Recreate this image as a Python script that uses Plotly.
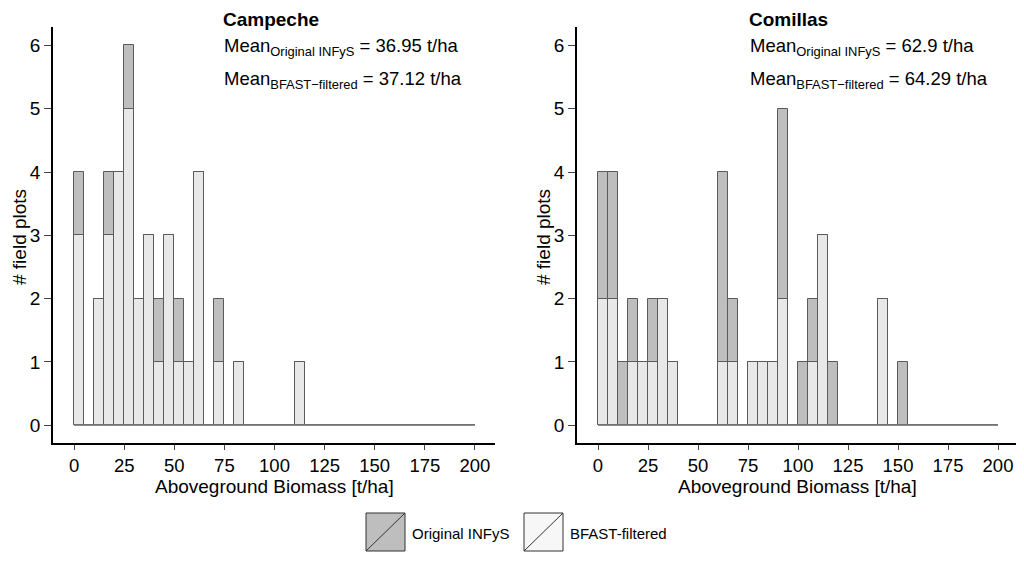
import plotly.graph_objects as go

# histogram bins: 5 t/ha wide, 0-200
bin_start = 0
bin_width = 5
n_bins = 40

# counts per bin (index 0 -> 0-5 t/ha, ...)
campeche_original = [4, 0, 2, 4, 4, 6, 2, 3, 2, 3, 2, 1, 4, 0, 2, 0, 1, 0, 0, 0,
                     0, 0, 1, 0, 0, 0, 0, 0, 0, 0, 0, 0, 0, 0, 0, 0, 0, 0, 0, 0]
campeche_filtered = [3, 0, 2, 3, 4, 5, 2, 3, 1, 3, 1, 1, 4, 0, 1, 0, 1, 0, 0, 0,
                     0, 0, 1, 0, 0, 0, 0, 0, 0, 0, 0, 0, 0, 0, 0, 0, 0, 0, 0, 0]
comillas_original = [4, 4, 1, 2, 1, 2, 2, 1, 0, 0, 0, 0, 4, 2, 0, 1, 1, 1, 5, 0,
                     1, 2, 3, 1, 0, 0, 0, 0, 2, 0, 1, 0, 0, 0, 0, 0, 0, 0, 0, 0]
comillas_filtered = [2, 2, 0, 1, 1, 1, 2, 1, 0, 0, 0, 0, 1, 1, 0, 1, 1, 1, 2, 0,
                     0, 1, 3, 0, 0, 0, 0, 0, 2, 0, 0, 0, 0, 0, 0, 0, 0, 0, 0, 0]

panels = ["Campeche", "Comillas"]
mean_original = ["36.95", "62.9"]
mean_filtered = ["37.12", "64.29"]

x_ticks = [0, 25, 50, 75, 100, 125, 150, 175, 200]
y_ticks = [0, 1, 2, 3, 4, 5, 6]
x_title = "Aboveground Biomass [t/ha]"
y_title = "# field plots"

DARK = "#bebebe"
LIGHT = "#e8e8e8"
EDGE = "#5a5a5a"
FONT = "Liberation Sans, Arial, sans-serif"
W, H = 1024, 562
OFF = 8  # page body margin the figure sits inside

centers = [bin_start + bin_width * (i + 0.5) for i in range(n_bins)]
edges = [bin_start, bin_start + bin_width * n_bins]


def px(x):
    return (x - OFF) / W


def py(y):
    return 1 - (y - OFF) / H


fig = go.Figure()
series = [(campeche_original, campeche_filtered), (comillas_original, comillas_filtered)]
for k, (orig, filt) in enumerate(series):
    xa = "x" if k == 0 else "x2"
    ya = "y" if k == 0 else "y2"
    fig.add_trace(go.Scatter(x=edges, y=[0, 0], mode="lines", xaxis=xa, yaxis=ya,
                             line=dict(color="#8a8a8a", width=1.5), showlegend=False,
                             hoverinfo="skip"))
    fig.add_trace(go.Bar(x=centers, y=orig, width=bin_width, xaxis=xa, yaxis=ya,
                         marker=dict(color=DARK, line=dict(color=EDGE, width=1)),
                         name="Original INFyS", showlegend=False))
    fig.add_trace(go.Bar(x=centers, y=filt, width=bin_width, xaxis=xa, yaxis=ya,
                         marker=dict(color=LIGHT, line=dict(color=EDGE, width=1)),
                         name="BFAST-filtered", showlegend=False))

axis_common = dict(showline=True, linecolor="black", linewidth=1.5, showgrid=False,
                   zeroline=False, ticks="outside", tickcolor="#444",
                   automargin=False,
                   tickfont=dict(size=19, color="black", family=FONT))

x_domains = [[px(53), px(495)], [px(577), px(1018)]]
y_domain = [py(443), py(27)]

layout = dict(
    width=W, height=H, barmode="overlay", bargap=0,
    paper_bgcolor="white", plot_bgcolor="white",
    margin=dict(l=0, r=0, t=0, b=0),
    showlegend=False,
    font=dict(family=FONT, color="black"),
)
for k in range(2):
    sx = "" if k == 0 else "2"
    layout["xaxis" + sx] = dict(axis_common, domain=x_domains[k], range=[-10.5, 210],
                                tickvals=x_ticks, anchor="y" + sx, ticklen=5,
                                tickfont=dict(size=18.5, color="black", family=FONT))
    layout["yaxis" + sx] = dict(axis_common, domain=y_domain, range=[-0.28, 6.29],
                                tickvals=y_ticks, anchor="x" + sx, ticklen=7)
fig.update_layout(**layout)

# axis titles, panel titles and means
text_x = [222, 748]
xtitle_x = [274, 797]
ytitle_x = [19, 543]
for k, name in enumerate(panels):
    fig.add_annotation(x=px(xtitle_x[k]), y=py(486), xref="paper", yref="paper",
                       xanchor="center", yanchor="middle", showarrow=False,
                       borderpad=0, text=x_title, font=dict(size=19))
    fig.add_annotation(x=px(ytitle_x[k]), y=py(237), xref="paper", yref="paper",
                       xanchor="center", yanchor="middle", showarrow=False,
                       textangle=-90, text=y_title, font=dict(size=19))
    fig.add_annotation(x=px(text_x[k]), y=1.0, xref="paper", yref="paper",
                       xanchor="left", yanchor="top", showarrow=False, borderpad=0,
                       text="<b>%s</b>" % name, font=dict(size=19))
    fig.add_annotation(x=px(text_x[k]), y=py(47), xref="paper", yref="paper",
                       xanchor="left", yanchor="middle", showarrow=False,
                       text="Mean<sub>Original INFyS</sub> = %s t/ha" % mean_original[k],
                       font=dict(size=18.5))
    fig.add_annotation(x=px(text_x[k]), y=py(80), xref="paper", yref="paper",
                       xanchor="left", yanchor="middle", showarrow=False,
                       text="Mean<sub>BFAST\u2212filtered</sub> = %s t/ha" % mean_filtered[k],
                       font=dict(size=18.5))

# custom legend boxes with diagonal
legend_items = [("Original INFyS", DARK, 366), ("BFAST-filtered", "#f7f7f7", 524)]
for label, color, x0 in legend_items:
    fig.add_shape(type="rect", xref="paper", yref="paper",
                  x0=px(x0), x1=px(x0 + 39), y0=py(551), y1=py(513),
                  fillcolor=color, line=dict(color="#333", width=1))
    fig.add_shape(type="line", xref="paper", yref="paper",
                  x0=px(x0), x1=px(x0 + 39), y0=py(551), y1=py(513),
                  line=dict(color="#333", width=1))
    fig.add_annotation(x=px(x0 + 44), y=py(533), xref="paper", yref="paper",
                       xanchor="left", yanchor="middle", showarrow=False,
                       text=label, font=dict(size=15))

fig.write_html("out.html")
